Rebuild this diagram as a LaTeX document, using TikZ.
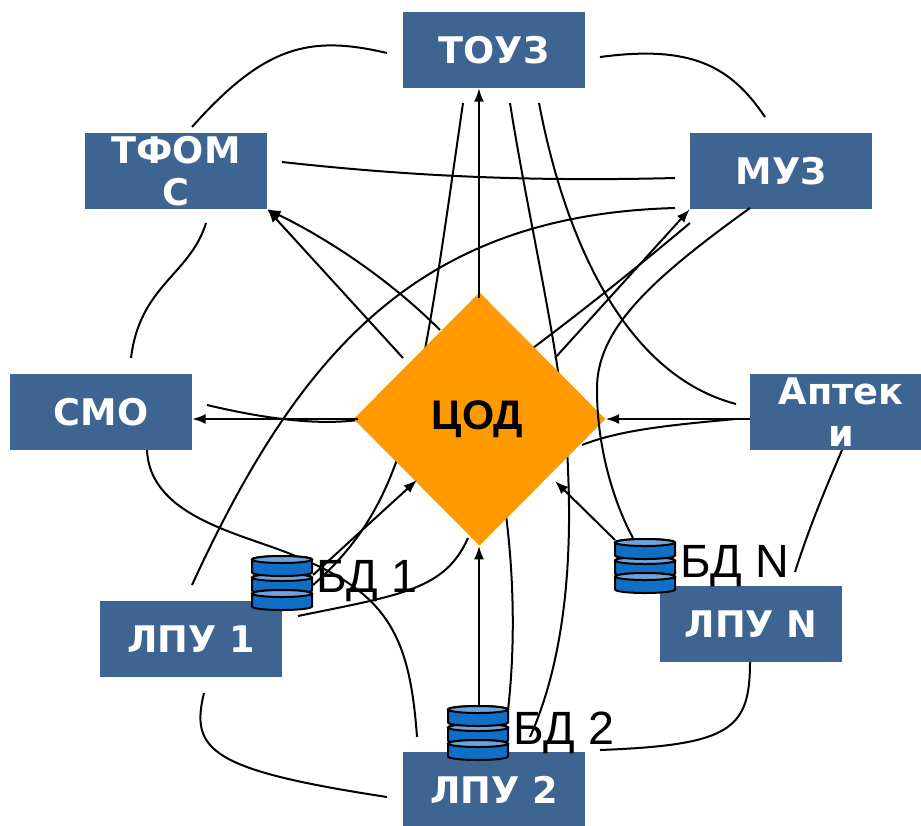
\documentclass[tikz,border=0pt]{standalone}
\usepackage{fontspec}
\setmainfont{Liberation Sans}
\newfontfamily\boxfont[Ligatures=TeX]{DejaVu Sans}
\usetikzlibrary{shapes.geometric,arrows.meta}
\definecolor{boxblue}{HTML}{3E6492}
\definecolor{codorange}{HTML}{FF9900}
\definecolor{dbblue}{HTML}{0F6FC6}
\definecolor{dbtop}{HTML}{6FA3DC}
\tikzset{
  orgbox/.style={fill=boxblue,text=white,minimum width=136.5pt,minimum height=57pt,inner sep=0pt,align=center,
    font=\boxfont\bfseries\fontsize{27.5}{31}\selectfont},
  dblabel/.style={anchor=west,inner sep=0pt,font=\fontsize{35}{37}\selectfont},
  link/.style={line width=1.5pt},
  feed/.style={line width=1.5pt,-{Latex[length=10pt,width=7.5pt]}},
  dbstack/.pic={
    \foreach \dy in {18,0,34} {
      \draw[line width=1.5pt,fill=dbblue] (0,\dy+3.5) -- (0,\dy+16.5) arc[start angle=180,end angle=0,x radius=30,y radius=3.5]
        -- (60,\dy+3.5) arc[start angle=0,end angle=-180,x radius=30,y radius=3.5] -- cycle;
      \draw[line width=1.5pt,fill=dbtop] (30,\dy+3.5) ellipse[x radius=30,y radius=3.5];
    }
  }
}
\begin{document}
\begin{tikzpicture}[x=0.75pt,y=-0.75pt]
\useasboundingbox (0,0) rectangle (921,825);
% free ends of the links
\coordinate (touzA) at (463,103);
\coordinate (touzB) at (510,103);
\coordinate (touzC) at (539,103);
\coordinate (touzL) at (387,53);
\coordinate (touzR) at (600,57);
\coordinate (tfomsT) at (192,127);
\coordinate (tfomsR) at (282,162);
\coordinate (tfomsB) at (206,223);
\coordinate (muzT) at (765,117);
\coordinate (muzL) at (675,178);
\coordinate (muzLL) at (675,208);
\coordinate (muzC) at (690,223);
\coordinate (muzB) at (750,208);
\coordinate (smoT) at (131,358);
\coordinate (smoR) at (207,405);
\coordinate (smoB) at (147,450);
\coordinate (aptT) at (736,404);
\coordinate (aptL) at (736,419);
\coordinate (aptB) at (842,450);
\coordinate (lpuoT) at (192,585);
\coordinate (lpuoR) at (298,616);
\coordinate (lpuoB) at (204,693);
\coordinate (lpubT) at (417,737);
\coordinate (lpubL) at (387,797);
\coordinate (lpubR) at (600,750);
\coordinate (lpubC) at (530,737);
\coordinate (lpunT) at (795,572);
\coordinate (lpunB) at (750,662);
\coordinate (dboR) at (313,585);
\coordinate (dboA) at (313,575);
\coordinate (dbbT) at (479,705);
\coordinate (dbbR) at (508,710);
\coordinate (dbnT) at (633,538);
\coordinate (dbnA) at (615,540);
\coordinate (codA) at (533,348);
\coordinate (codB) at (440,330);
\coordinate (codC) at (506,515);
\coordinate (codD) at (468,538);
\coordinate (codE) at (582,445);
\coordinate (codF) at (358,420);
\coordinate (codG) at (403,358);
\coordinate (codH) at (555,358);
\coordinate (codI) at (479,298);
\coordinate (codJ) at (358,419);
\coordinate (codK) at (417,480);
\coordinate (codL) at (555,481);
% links behind the centre
\draw[link] (touzL) .. controls (310,35) and (265,45) .. (tfomsT);
\draw[link] (touzR) .. controls (690,45) and (730,65) .. (muzT);
\draw[link] (tfomsR) .. controls (400,175) and (520,182) .. (muzL);
\draw[link] (tfomsB) .. controls (190,275) and (140,285) .. (smoT);
\draw[link] (smoB) .. controls (150,520) and (250,535) .. (300,558) .. controls (390,595) and (410,640) .. (lpubT);
\draw[link] (lpuoB) .. controls (190,750) and (210,770) .. (lpubL);
\draw[link] (lpubR) .. controls (730,745) and (750,730) .. (lpunB);
\draw[link] (lpunT) .. controls (810,525) and (825,490) .. (aptB);
\draw[link] (lpuoT) .. controls (300,350) and (420,215) .. (muzLL);
\draw[link] (touzA) .. controls (420,400) and (410,500) .. (dboR);
\draw[link] (touzB) .. controls (530,230) and (565,370) .. (568,470) .. controls (573,580) and (560,670) .. (lpubC);
\draw[link] (touzC) .. controls (565,240) and (625,375) .. (aptT);
\draw[link] (muzC) .. controls (640,265) and (590,305) .. (codA);
\draw[link] (lpuoR) .. controls (400,595) and (445,590) .. (codD);
\draw[link] (aptL) .. controls (670,425) and (620,430) .. (codE);
\draw[link] (smoR) .. controls (270,420) and (320,425) .. (codF);
\draw[link] (dbbR) .. controls (516,640) and (513,570) .. (codC);
% boxes and the centre
\node[diamond,fill=codorange,minimum width=189pt,minimum height=190pt,inner sep=0pt,
  font=\bfseries\fontsize{31}{33}\selectfont] (cod) at (479.5,419) {\hspace{-3pt}\raisebox{5pt}{ЦОД}};
\node[orgbox] (touz) at (494,50) {ТОУЗ};
\node[orgbox] (tfoms) at (176,171) {ТФОМ\\С};
\node[orgbox] (muz) at (781,171) {МУЗ};
\node[orgbox] (smo) at (101,412) {СМО};
\node[orgbox] (apt) at (841,412) {Аптек\\и};
\node[orgbox] (lpuo) at (191,639) {ЛПУ 1};
\node[orgbox] (lpub) at (494,790) {ЛПУ 2};
\node[orgbox] (lpun) at (751,624) {ЛПУ N};
% links in front of the centre
\draw[link] (muzB) .. controls (650,280) and (596,330) .. (597,390) .. controls (597,450) and (615,505) .. (dbnT);
\draw[feed] (codB) .. controls (390,280) and (330,240) .. (tfoms.south east);
\draw[feed] (codG) -- (tfoms.south east);
\draw[feed] (codI) -- (touz.south -| codI);
\draw[feed] (codH) -- (muz.south west);
\draw[feed] (codJ) -- (smo.east |- codJ);
\draw[feed] (apt.west |- aptL) -- (cod.east |- aptL);
\draw[feed] (dboA) -- (codK);
\draw[feed] (dbbT) -- (dbbT |- cod.south);
\draw[feed] (dbnA) -- (codL);
% databases
\pic at (252,556) {dbstack};
\pic at (448,706) {dbstack};
\pic at (615,539) {dbstack};
\node[dblabel] (bdo) at (316,581) {БД 1};
\node[dblabel] (bdb) at (513,733) {БД 2};
\node[dblabel] (bdn) at (680,566) {БД N};
\end{tikzpicture}
\end{document}
